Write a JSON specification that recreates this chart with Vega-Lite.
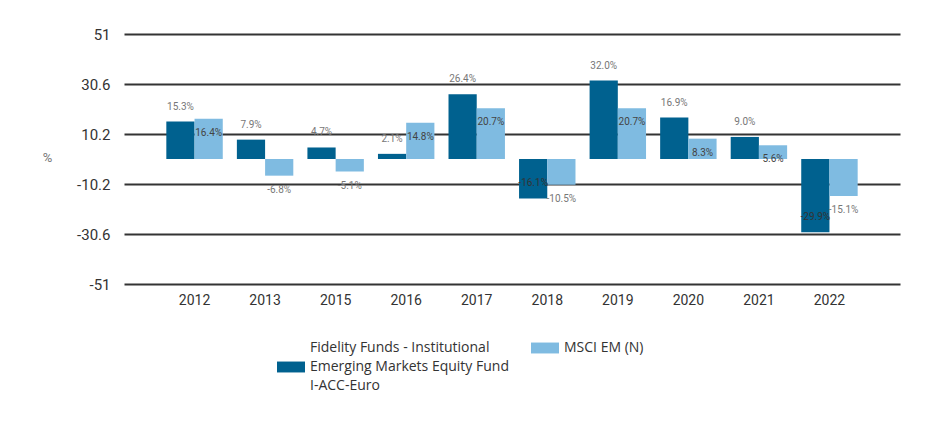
{
  "$schema": "https://vega.github.io/schema/vega-lite/v6.json",
  "width": 776,
  "height": 250,
  "autosize": {"type": "none"},
  "padding": {"left": 124, "top": 34, "right": 30, "bottom": 137},
  "background": "white",
  "config": {"view": {"stroke": null}},
  "data": {
    "values": [
      {"year": "2012", "series": "Fidelity Funds - Institutional Emerging Markets Equity Fund I-ACC-Euro", "value": 15.3, "label": "15.3%"},
      {"year": "2012", "series": "MSCI EM (N)", "value": 16.4, "label": "16.4%"},
      {"year": "2013", "series": "Fidelity Funds - Institutional Emerging Markets Equity Fund I-ACC-Euro", "value": 7.9, "label": "7.9%"},
      {"year": "2013", "series": "MSCI EM (N)", "value": -6.8, "label": "-6.8%"},
      {"year": "2015", "series": "Fidelity Funds - Institutional Emerging Markets Equity Fund I-ACC-Euro", "value": 4.7, "label": "4.7%"},
      {"year": "2015", "series": "MSCI EM (N)", "value": -5.1, "label": "-5.1%"},
      {"year": "2016", "series": "Fidelity Funds - Institutional Emerging Markets Equity Fund I-ACC-Euro", "value": 2.1, "label": "2.1%"},
      {"year": "2016", "series": "MSCI EM (N)", "value": 14.8, "label": "14.8%"},
      {"year": "2017", "series": "Fidelity Funds - Institutional Emerging Markets Equity Fund I-ACC-Euro", "value": 26.4, "label": "26.4%"},
      {"year": "2017", "series": "MSCI EM (N)", "value": 20.7, "label": "20.7%"},
      {"year": "2018", "series": "Fidelity Funds - Institutional Emerging Markets Equity Fund I-ACC-Euro", "value": -16.1, "label": "-16.1%"},
      {"year": "2018", "series": "MSCI EM (N)", "value": -10.5, "label": "-10.5%"},
      {"year": "2019", "series": "Fidelity Funds - Institutional Emerging Markets Equity Fund I-ACC-Euro", "value": 32.0, "label": "32.0%"},
      {"year": "2019", "series": "MSCI EM (N)", "value": 20.7, "label": "20.7%"},
      {"year": "2020", "series": "Fidelity Funds - Institutional Emerging Markets Equity Fund I-ACC-Euro", "value": 16.9, "label": "16.9%"},
      {"year": "2020", "series": "MSCI EM (N)", "value": 8.3, "label": "8.3%"},
      {"year": "2021", "series": "Fidelity Funds - Institutional Emerging Markets Equity Fund I-ACC-Euro", "value": 9.0, "label": "9.0%"},
      {"year": "2021", "series": "MSCI EM (N)", "value": 5.6, "label": "5.6%"},
      {"year": "2022", "series": "Fidelity Funds - Institutional Emerging Markets Equity Fund I-ACC-Euro", "value": -29.9, "label": "-29.9%"},
      {"year": "2022", "series": "MSCI EM (N)", "value": -15.1, "label": "-15.1%"}
    ]
  },
  "encoding": {
    "x": {
      "field": "year",
      "type": "nominal",
      "sort": null,
      "title": null,
      "scale": {"paddingInner": 0.2, "paddingOuter": 0.6},
      "axis": {
        "domain": false,
        "ticks": false,
        "grid": false,
        "labelAngle": 0,
        "labelFont": "Roboto",
        "labelFontSize": 14,
        "labelColor": "#333333",
        "labelPadding": 9
      }
    },
    "xOffset": {
      "field": "series",
      "type": "nominal",
      "sort": ["Fidelity Funds - Institutional Emerging Markets Equity Fund I-ACC-Euro", "MSCI EM (N)"],
      "scale": {"paddingInner": 0, "paddingOuter": 0}
    },
    "y": {
      "field": "value",
      "type": "quantitative",
      "scale": {"domain": [-51, 51], "nice": false, "zero": false},
      "axis": {
        "values": [-51, -30.6, -10.2, 10.2, 30.6, 51],
        "labelExpr": "datum.value + ''",
        "grid": true,
        "gridColor": "#333333",
        "gridWidth": 2,
        "domain": false,
        "ticks": false,
        "labelFont": "Roboto",
        "labelFontSize": 15,
        "labelColor": "#333333",
        "labelPadding": 14,
        "title": "%",
        "titleAngle": 0,
        "titleX": -77,
        "titleY": 123,
        "titleFont": "Roboto",
        "titleFontSize": 13,
        "titleColor": "#777777",
        "titleFontWeight": "normal",
        "titleAlign": "center",
        "titleBaseline": "middle"
      }
    }
  },
  "layer": [
    {
      "mark": {"type": "bar"},
      "encoding": {
        "color": {
          "field": "series",
          "type": "nominal",
          "sort": ["Fidelity Funds - Institutional Emerging Markets Equity Fund I-ACC-Euro", "MSCI EM (N)"],
          "scale": {"range": ["#00618f", "#7fbbe1"]},
          "legend": {
            "orient": "none",
            "legendX": 153,
            "legendY": 300,
            "direction": "horizontal",
            "title": null,
            "padding": 0,
            "symbolType": "M-1,-0.39H1V0.39H-1Z",
            "symbolSize": 784,
            "symbolStrokeWidth": 0,
            "symbolOpacity": 1,
            "labelFont": "Open Sans",
            "labelFontSize": 14,
            "labelColor": "#333333",
            "labelOffset": 5,
            "labelLimit": 400,
            "columnPadding": 22,
            "labelExpr": "datum.label == 'MSCI EM (N)' ? ['MSCI EM (N)', ' ', ' ', ' '] : ['Fidelity Funds - Institutional', 'Emerging Markets Equity Fund', 'I-ACC-Euro']",
            "encode": {"labels": {"update": {"lineHeight": {"value": 19}, "dy": {"signal": "datum.label == 'MSCI EM (N)' ? 0 : -19"}}}}
          }
        }
      }
    },
    {
      "transform": [{"filter": "datum.series != 'MSCI EM (N)'"}],
      "mark": {"type": "text", "dy": -15, "font": "Roboto", "fontSize": 10, "baseline": "middle"},
      "encoding": {
        "text": {"field": "label"},
        "color": {"condition": {"test": "datum.value < 0", "value": "#333333"}, "value": "#777777"}
      }
    },
    {
      "transform": [{"filter": "datum.series == 'MSCI EM (N)'"}],
      "mark": {"type": "text", "dy": 14, "font": "Roboto", "fontSize": 10, "baseline": "middle"},
      "encoding": {
        "text": {"field": "label"},
        "color": {"condition": {"test": "datum.value < 0", "value": "#777777"}, "value": "#444444"}
      }
    }
  ]
}
